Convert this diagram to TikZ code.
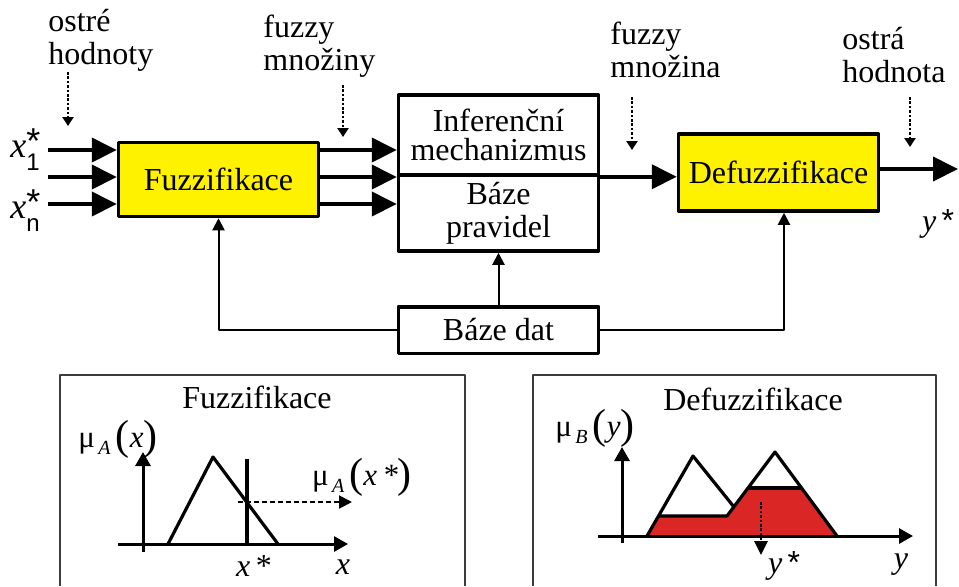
\documentclass[tikz,border=0pt]{standalone}
\usepackage{fontspec}
\setmainfont{Liberation Serif}
\newfontfamily\arial{Liberation Sans}
\usetikzlibrary{arrows.meta,positioning}

\definecolor{zluta}{RGB}{255,242,0}
\definecolor{cervena}{RGB}{218,38,36}
\definecolor{sedra}{RGB}{60,60,60}

% vstupni a vystupni promenne
\newcommand{\vstup}[1]{{\fontsize{18}{18}\selectfont\textit{x}\rlap{\raisebox{2pt}{\arial *}}\raisebox{-6.5pt}{\fontsize{12}{12}\arial #1}}}
\newcommand{\vystup}{\textit{y}\,{\arial *}}
% funkce prislusnosti mu_A(x)
\newcommand{\mufce}[2]{{\fontsize{15.5}{15.5}\selectfont μ\raisebox{-0.5ex}{\fontsize{10}{10}\selectfont\,\textit{#1}}\,\raisebox{-0.1ex}{\fontsize{21}{21}\selectfont(}\textit{#2}\raisebox{-0.1ex}{\fontsize{21}{21}\selectfont)}}}

\begin{document}
\begin{tikzpicture}[x=0.5pt,y=-0.5pt,line join=round,font=\fontsize{16}{16.5}\selectfont]
	\tikzset{
		blok/.style={draw,line width=1.75pt,minimum width=100pt,align=center,inner sep=0pt},
		popis/.style={align=left,anchor=base west,inner sep=0pt},
		tlusta/.style={line width=2pt,-{Triangle[length=12.5pt,width=12pt]}},
		tenka/.style={line width=1pt,-{Triangle[length=6pt,width=6pt]}},
		ukaz/.style={line width=1.3pt,dash pattern=on 1.3pt off 0.9pt,-{Triangle[length=4.5pt,width=5.5pt]}},
		osa/.style={line width=1.5pt,-{Triangle[length=7pt,width=7.5pt]}},
		graf/.style={line width=1.6pt},
		ramec/.style={draw=sedra,line width=1pt},
	}
	\useasboundingbox (0,0) rectangle (959,586);
	
	% --- Bloky regulatoru ---
	\node[blok,fill=zluta,minimum height=37pt] (fuz) at (218.5,179.5) {Fuzzifikace};
	\node[blok,minimum height=40pt,font=\fontsize{16}{14.5}\selectfont] (inf) at (498.5,135) {Inferenční\\mechanizmus};
	\node[blok,minimum height=38pt,below=-1.75pt of inf] (pra) {Báze\\pravidel};
	\node[blok,fill=zluta,minimum height=38.5pt] (def) at (778.5,172.5) {Defuzzifikace};
	\node[blok,minimum height=23.25pt] (dat) at (498.5,330) {Báze dat};
	
	% --- Vstupy a vystup ---
	\coordinate (x1) at (48,150);
	\coordinate (x2) at (48,177);
	\coordinate (xn) at (48,204);
	\coordinate (yout) at (958,169);
	\node[anchor=base west,inner sep=0pt] (lx1) at (10,157) {\vstup{1}};
	\node[anchor=base west,inner sep=0pt] (lxn) at (10,218) {\vstup{n}};
	\node (ly) at (938,224) {\vystup};
	
	\foreach \j in {x1,x2,xn} {
		\draw[tlusta] (\j) -- (\j -| fuz.west);
		\draw[tlusta] (\j -| fuz.east) -- (\j -| inf.west);
	}
	\draw[tlusta] (inf.south east) -- (inf.south east -| def.west);
	\draw[tlusta] (def.east |- yout) -- (yout);
	
	% --- Baze dat ---
	\draw[tenka] (dat.north) -- (pra.south);
	\draw[tenka] (dat.west) -| (fuz.south);
	\draw[tenka] (dat.east) -| ([xshift=2.75pt]def.south);
	
	% --- Popisky s ukazateli ---
	\node[popis] (ostre) at (48,64) {ostré\\hodnoty};
	\node[popis] (mnoziny) at (263,70) {fuzzy\\množiny};
	\node[popis] (mnozina) at (610,77) {fuzzy\\množina};
	\node[popis] (ostra) at (842,82) {ostrá\\hodnota};
	\coordinate (h1) at (68,126);
	\coordinate (h2) at (343,137);
	\coordinate (h3) at (632,150);
	\coordinate (h4) at (910,147);
	\foreach \h/\d in {h1/27,h2/26,h3/26.5,h4/25}
		\draw[ukaz] ([yshift=\d pt]\h) -- (\h);
	
	% --- Fuzzifikace: detail ---
	\draw[ramec] (60,586) |- (465,375) -- (465,586);
	\node[anchor=base] (tfuz) at (257,408) {Fuzzifikace};
	\draw[osa] (118,544) -- (348,544);
	\draw[osa] (143,552) -- (143,452);
	\draw[graf] (168,544) -- (213,457) -- (278,544);
	\draw[graf] (247,544) -- (247,459);
	\draw[line width=1pt,dash pattern=on 2.5pt off 1.5pt,-{Triangle[length=6.5pt,width=6.5pt]}] (238,502) -- (352,502);
	\node (muA) at (118,439) {\mufce{A}{x}};
	\node (muAx) at (362,477) {\mufce{A}{x\,*}};
	\node (lxs) at (254,566) {\textit{x}\,*};
	\node (lx) at (343,567) {\textit{x}};
	
	% --- Defuzzifikace: detail ---
	\draw[ramec] (533,586) |- (936,375) -- (936,586);
	\node[anchor=base] (tdef) at (753,410) {Defuzzifikace};
	\fill[cervena] (647,536) -- (659,516) -- (727,516) -- (748,488) -- (801,488) -- (837,536) -- cycle;
	\draw[osa] (598,536) -- (913,536);
	\draw[osa] (622,543) -- (622,447);
	\draw[graf] (647,536) -- (693,456) -- (734,507);
	\draw[graf] (659,516) -- (727,516) -- (775,452) -- (837,536);
	\draw[graf] (748,488) -- (801,488);
	\draw[ukaz,-{Triangle[length=7pt,width=6.5pt]}] (761,502) -- (761,555);
	\node (muB) at (595,428) {\mufce{B}{y}};
	\node (lys) at (784,566) {\vystup};
	\node (ly2) at (901,565) {\textit{y}};
\end{tikzpicture}
\end{document}
